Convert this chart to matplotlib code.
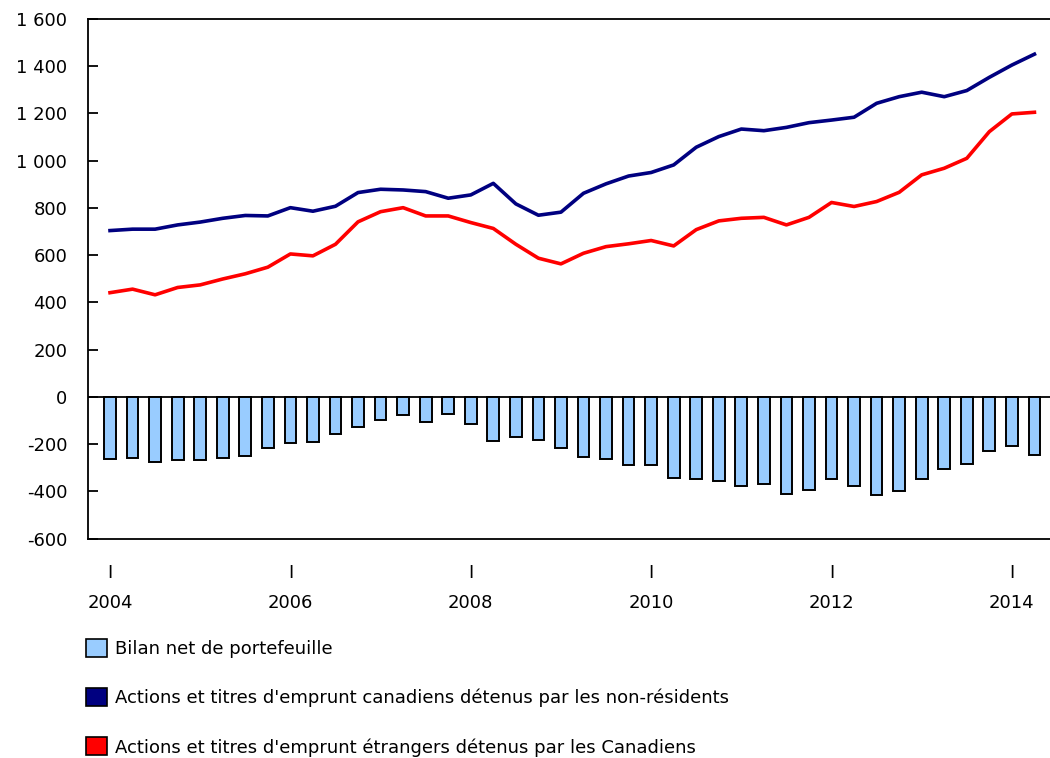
import numpy as np
import matplotlib
matplotlib.use('Agg')
import matplotlib.pyplot as plt
from matplotlib.patches import Patch
from matplotlib.ticker import FuncFormatter

plt.rcParams['font.family'] = ['DejaVu Sans']
plt.rcParams['axes.unicode_minus'] = False

# trimestres 2004 T1 - 2014 T2
trimestres = [f"{a} T{t}" for a in range(2004, 2015) for t in range(1, 5)][:42]

non_residents = [704, 710, 710, 728, 740, 756, 768, 766, 801, 786, 807, 865, 879, 876,
                 869, 841, 855, 904, 817, 769, 782, 862, 902, 935, 950, 982, 1057, 1102,
                 1134, 1127, 1141, 1161, 1172, 1184, 1243, 1271, 1290, 1271, 1297, 1353,
                 1405, 1451]
canadiens = [441, 456, 432, 463, 474, 499, 521, 549, 605, 597, 646, 741, 784, 801,
             766, 766, 738, 713, 646, 587, 563, 608, 636, 648, 662, 639, 708, 745,
             756, 760, 728, 760, 823, 806, 827, 866, 940, 968, 1010, 1123, 1198, 1205]
bilan_net = [-265, -257, -277, -269, -267, -257, -249, -218, -197, -190, -159, -126, -97, -75,
             -105, -73, -116, -188, -170, -184, -217, -255, -265, -287, -290, -342, -346, -356,
             -378, -368, -410, -396, -349, -379, -414, -399, -349, -305, -286, -229, -208, -246]

annees = ['2004', '2006', '2008', '2010', '2012', '2014']
noms = ['Bilan net de portefeuille',
        "Actions et titres d'emprunt canadiens détenus par les non-résidents",
        "Actions et titres d'emprunt étrangers détenus par les Canadiens"]
c_barre = '#99CCFF'
c_bleu = '#000080'
c_rouge = '#FF0000'

x = np.arange(len(trimestres))

fig = plt.figure(figsize=(10.5, 7.58), dpi=100)
ax = fig.add_axes([88 / 1050, 1 - 538.5 / 758, 962 / 1050, 519.5 / 758])

ax.axhline(0, color='black', lw=1.3, zorder=1)
ax.bar(x, bilan_net, width=0.52, color=c_barre, edgecolor='black', linewidth=1.4, zorder=2)
ax.plot(x, non_residents, color=c_bleu, lw=2.6, zorder=3)
ax.plot(x, canadiens, color=c_rouge, lw=2.6, zorder=3)

ax.set_xlim(-0.976, 41.69)
ax.set_ylim(-600, 1600)
ax.set_yticks(np.arange(-600, 1601, 200))
ax.yaxis.set_major_formatter(FuncFormatter(lambda v, p: f"{int(v):,}".replace(',', ' ')))
ax.tick_params(axis='y', direction='in', length=7, width=1.3, labelsize=13, pad=15)

ax.set_xticks(x[::8])
ax.set_xticklabels(['I\n' + a for a in annees], linespacing=1.86)
ax.tick_params(axis='x', length=0, labelsize=13, pad=18)

ax.spines['right'].set_visible(False)
for s in ['left', 'top', 'bottom']:
    ax.spines[s].set_linewidth(1.3)

handles = [Patch(facecolor=c_barre, edgecolor='black', linewidth=1.2),
           Patch(facecolor=c_bleu, edgecolor='black', linewidth=1.2),
           Patch(facecolor=c_rouge, edgecolor='black', linewidth=1.2)]
fig.legend(handles, noms, loc='upper left', bbox_to_anchor=(86 / 1050, 1 - 639 / 758),
           frameon=False, fontsize=13, handlelength=1.15, handleheight=1.15,
           handletextpad=0.45, labelspacing=1.67, borderpad=0, borderaxespad=0)

fig.savefig('out.png', dpi=100)
